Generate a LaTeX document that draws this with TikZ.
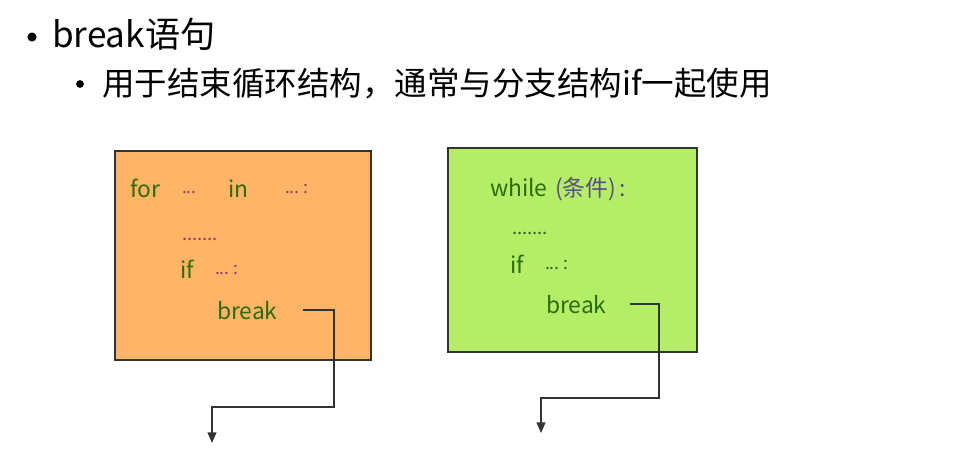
\documentclass[tikz,border=0pt]{standalone}
\usepackage{fontspec}
\setmainfont{Noto Sans CJK SC}
\usetikzlibrary{arrows.meta}
\definecolor{forfill}{HTML}{FFB466}
\definecolor{whilefill}{HTML}{B4EE66}
\definecolor{kwgreen}{HTML}{2E6B0A}
\definecolor{dotpink}{HTML}{A0306E}
\definecolor{condgray}{HTML}{5B4C8C}
\definecolor{dotdark}{HTML}{3A5A20}
\definecolor{boxline}{HTML}{333333}
\begin{document}
\begin{tikzpicture}[
   x=0.02cm,y=-0.02cm,
   every node/.style={inner sep=0pt,outer sep=0pt},
   loopbox/.style={draw=boxline,line width=0.85pt,anchor=north west},
   kw/.style={anchor=base west,font=\fontsize{13}{15}\selectfont,text=kwgreen},
   dots/.style={anchor=base west,font=\fontsize{10}{12}\selectfont,text=dotpink},
   body/.style={anchor=base west,font=\fontsize{10.5}{12}\selectfont,text=dotpink},
   cond/.style={anchor=base west,font=\fontsize{13}{15}\selectfont,text=condgray},
   bullet/.style={circle,fill=black},
   jump/.style={-{Triangle[length=6pt,width=5pt]},line width=0.75pt,draw=boxline}]
\useasboundingbox (0,0) rectangle (962,468);
\node[bullet,minimum size=5.2pt] (bul1) at (32,37) {};
\node[anchor=base west,font=\fontsize{20}{24}\selectfont] (title) at (52,47) {break语句};
\node[bullet,minimum size=4.4pt] (bul2) at (80,84) {};
\node[anchor=base west,font=\fontsize{18.5}{22}\selectfont] (sub) at (102,95) {用于结束循环结构，通常与分支结构if一起使用};
\node[loopbox,fill=forfill,minimum width=5.12cm,minimum height=4.18cm] (forbox) at (115,151) {};
\node[kw] (forkw) at (130,197) {for};
\node[dots] (fordots) at (182,193) {...};
\node[kw] (inkw) at (228,197) {in};
\node[dots] (indots) at (285,193) {...\ :};
\node[body] (forbody) at (182,240) {.......};
\node[kw] (forif) at (180,278) {if};
\node[dots] (forifdots) at (215,274) {...\ :};
\node[kw] (forbrk) at (217,319) {break};
\node[loopbox,fill=whilefill,minimum width=4.98cm,minimum height=4.08cm] (whilebox) at (448,148) {};
\node[kw] (whilekw) at (490,196) {while};
\node[cond] (whilecond) at (555,196) {(条件)\,:};
\node[body,text=dotdark] (whilebody) at (512,234) {.......};
\node[kw] (whileif) at (510,273) {if};
\node[dots,text=dotdark] (whileifdots) at (545,269) {...\ :};
\node[kw] (whilebrk) at (546,313) {break};
\coordinate (forturn) at (334,407);
\coordinate (forexit) at (212,443);
\coordinate (whileturn) at (659,398);
\coordinate (whileexit) at (541,433);
\draw[jump] ([xshift=0.52cm]forbrk.east) -| (forturn) -| (forexit);
\draw[jump] ([xshift=0.48cm]whilebrk.east) -| (whileturn) -| (whileexit);
\end{tikzpicture}
\end{document}
